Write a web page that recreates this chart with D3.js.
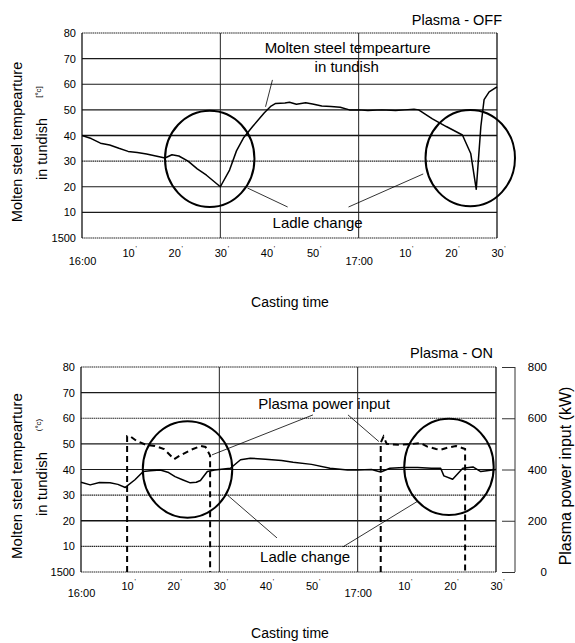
<!DOCTYPE html>
<html>
<head>
<meta charset="utf-8">
<script src="https://cdn.jsdelivr.net/npm/d3@7"></script>
<style>
  body { margin: 0; background: #fff; }
  svg { display: block; font-family: "Liberation Sans", Arial, sans-serif; }
</style>
</head>
<body>
<div id="chart"></div>
<script>
// --- data (minutes after 16:00, temperature above 1500 C, power kW) ---
var minuteTicks = [0, 10, 20, 30, 40, 50, 60, 70, 80, 90];
var minuteLabels = ["16:00", "10", "20", "30", "40", "50", "17:00", "10", "20", "30"];
var tempTicks = [0, 10, 20, 30, 40, 50, 60, 70, 80];
var tempLabels = ["1500", "10", "20", "30", "40", "50", "60", "70", "80"];
var powerTicks = [0, 200, 400, 600, 800];

// Plasma OFF : tundish temperature
var offTime = [0, 2, 4, 6, 8, 10, 12, 14, 16, 18, 19.5, 21, 23, 25, 27, 30, 32, 33.5, 35, 37, 39.5, 41, 42, 44, 45, 46.5, 48.5, 50, 52, 54, 56, 58, 60, 62, 65, 68, 70, 72, 73, 76, 79, 82.5, 84.3, 85.5, 86.5, 87.2, 88.3, 90];
var offTemp = [40, 38.8, 37, 36.3, 35, 33.8, 33.4, 32.8, 32, 31.2, 32.5, 32, 30, 27, 24.5, 20, 26.5, 34, 39, 43.5, 48.8, 51.5, 52.5, 52.7, 53, 52.2, 52.8, 52.3, 51.5, 51.3, 51, 50, 50, 49.8, 50, 49.8, 50, 50.2, 50, 46.5, 43.5, 40.2, 33, 19, 43.5, 54, 57, 59];

// Plasma ON : tundish temperature
var onTime = [0, 2, 4, 6.3, 8, 9.6, 11.7, 13.5, 15, 17.2, 19, 20.4, 22, 23.7, 25, 25.9, 27.4, 29, 32.4, 34.6, 36.7, 40, 43.5, 46, 50, 54, 57.8, 60, 63, 65, 67, 70, 73, 76, 78, 78.7, 80.6, 82.8, 85, 86.7, 88, 90];
var onTemp = [35, 34, 34.9, 34.8, 34.2, 33, 36, 39.2, 39.5, 39.8, 38.8, 37.2, 36, 34.8, 35, 35.7, 39.2, 39.8, 40.5, 43.8, 44.4, 44, 43.5, 42.8, 42, 40.5, 39.8, 39.8, 40, 39, 40.5, 40.8, 40.8, 40.5, 40.5, 37.5, 36.2, 40.5, 41, 39.2, 39.5, 40];

// Plasma ON : power input, two heats
var power1Time = [10, 10, 10.8, 12, 14, 16, 18, 20.2, 21.5, 24, 26, 27, 28, 28];
var power1 = [0, 530, 528, 512, 497, 492, 480, 440, 455, 478, 492, 488, 455, 0];
var power2Time = [65, 65, 65.6, 66.3, 69, 72, 73.7, 75, 77, 78, 79.5, 81.3, 82.5, 83.3, 83.3];
var power2 = [0, 505, 528, 500, 496, 500, 503, 490, 480, 477, 485, 492, 485, 480, 0];

// annotations (minute, temp)
var offCircles = [[27.7, 30.9], [84.2, 31.2]];
var onCircles = [[23.1, 40], [79.8, 41]];
var offLeaders = [[[41.3, 61.7], [39.8, 51.2]], [[35.9, 19.5], [44.6, 12.1]], [[57.8, 12.1], [74, 25]]];
var onLeaders = [[[28.4, 45.7], [50.3, 61.3]], [[57.9, 61.3], [64.6, 50.9]], [[31.7, 30.1], [42.5, 13.3]], [[56.8, 9.8], [72.9, 27.5]]];

var W = 575, H = 643;
var svg = d3.select("#chart").append("svg").attr("width", W).attr("height", H);

// grid line look per temperature level, 0..80
var offGridStyle = ["dot", "solid", "solid", "dot", "thick", "solid", "solid", "solid", "dot"];
var onGridStyle = ["dot", "dot", "thick", "dot", "solid", "solid", "dot", "solid", "dot"];

function styleLine(sel, kind) {
  if (kind === "dot") {
    sel.attr("stroke", "#222").attr("stroke-width", 1.1).attr("stroke-dasharray", "1.5,0.6");
  } else if (kind === "thick") {
    sel.attr("stroke", "#111").attr("stroke-width", 1.5);
  } else {
    sel.attr("stroke", "#1a1a1a").attr("stroke-width", 1.1);
  }
}

function drawPanel(p) {
  var x = d3.scaleLinear().domain([0, 90]).range([p.left, p.right]);
  var y = d3.scaleLinear().domain([0, 80]).range([p.bottom, p.top]);
  var g = svg.append("g");

  // horizontal grid
  tempTicks.forEach(function(t, i) {
    var l = g.append("line")
      .attr("x1", p.left).attr("x2", p.right)
      .attr("y1", y(t)).attr("y2", y(t));
    styleLine(l, p.gridStyle[i]);
  });
  // vertical lines at 30' and 17:00, borders
  [30, 60].forEach(function(m) {
    g.append("line").attr("x1", x(m)).attr("x2", x(m))
      .attr("y1", p.top).attr("y2", p.bottom)
      .attr("stroke", "#222").attr("stroke-width", 1);
  });
  [0, 90].forEach(function(m) {
    g.append("line").attr("x1", x(m)).attr("x2", x(m))
      .attr("y1", p.top).attr("y2", p.bottom)
      .attr("stroke", "#111").attr("stroke-width", 1.3);
  });

  // y axis labels
  var yAxis = g.append("g")
    .attr("transform", "translate(" + (p.left - 6) + ",0)")
    .call(d3.axisLeft(y).tickValues(tempTicks).tickSize(0)
      .tickFormat(function(d, i) { return tempLabels[i]; }));
  yAxis.select(".domain").remove();
  yAxis.selectAll("text")
    .attr("x", 0)
    .style("font-family", "Liberation Sans, Arial, sans-serif")
    .style("font-size", "11px").attr("fill", "#000");

  // x axis labels
  var xAxis = g.append("g")
    .attr("transform", "translate(0," + p.bottom + ")")
    .call(d3.axisBottom(x).tickValues(minuteTicks).tickSize(0)
      .tickFormat(function(d, i) { return minuteLabels[i]; }));
  xAxis.select(".domain").remove();
  xAxis.selectAll("text")
    .attr("dy", null)
    .attr("y", function(d, i) { return minuteLabels[i].indexOf(":") > 0 ? p.hourDy : p.minDy; })
    .style("font-family", "Liberation Sans, Arial, sans-serif")
    .style("font-size", "11px").attr("fill", "#000");
  xAxis.selectAll(".tick").each(function(d, i) {
    if (minuteLabels[i].indexOf(":") < 0) {
      d3.select(this).append("text")
        .attr("x", 7.5).attr("y", p.minDy - 6)
        .style("font-size", "7px").attr("fill", "#000")
        .style("font-family", "Liberation Sans, Arial, sans-serif")
        .text("'");
    }
  });

  // temperature line
  var line = d3.line().x(function(d) { return x(d[0]); }).y(function(d) { return y(d[1]); });
  g.append("path")
    .datum(d3.zip(p.time, p.temp))
    .attr("d", line).attr("fill", "none")
    .attr("stroke", "#000").attr("stroke-width", 1.5).attr("stroke-linejoin", "round");

  // annotation circles
  p.circles.forEach(function(c) {
    g.append("ellipse")
      .attr("cx", x(c[0])).attr("cy", y(c[1]))
      .attr("rx", x(9.7) - x(0)).attr("ry", y(0) - y(18.8))
      .attr("fill", "none").attr("stroke", "#000").attr("stroke-width", 2);
  });
  p.leaders.forEach(function(l) {
    g.append("line")
      .attr("x1", x(l[0][0])).attr("y1", y(l[0][1]))
      .attr("x2", x(l[1][0])).attr("y2", y(l[1][1]))
      .attr("stroke", "#000").attr("stroke-width", 0.8);
  });
  p.labels.forEach(function(t) {
    g.append("text")
      .attr("x", x(t[0])).attr("y", y(t[1]))
      .attr("text-anchor", "middle")
      .style("font-size", "15px")
      .text(t[2]);
  });

  // title
  svg.append("text")
    .attr("x", p.titleX).attr("y", p.titleY)
    .attr("text-anchor", "end").style("font-size", "14.5px")
    .text(p.title);

  // y titles
  var yt = svg.append("g");
  yt.append("text")
    .attr("transform", "translate(22," + p.yTitle1 + ") rotate(-90)")
    .attr("text-anchor", "middle").style("font-size", p.yTitleSize)
    .text("Molten steel tempearture");
  yt.append("text")
    .attr("transform", "translate(47," + p.yTitle2 + ") rotate(-90)")
    .attr("text-anchor", "middle").style("font-size", p.yTitleSize)
    .text("in tundish");
  yt.append("text")
    .attr("transform", "translate(41," + p.unitY + ") rotate(-90)")
    .attr("text-anchor", "middle").style("font-size", "8px")
    .text(p.unit);

  // x title
  svg.append("text")
    .attr("x", 290).attr("y", p.xTitleY)
    .attr("text-anchor", "middle").style("font-size", "14px")
    .text("Casting time");

  return { x: x, y: y, g: g };
}

drawPanel({
  left: 82, right: 497, top: 33, bottom: 238,
  gridStyle: offGridStyle, minDy: 19, hourDy: 27,
  time: offTime, temp: offTemp,
  circles: offCircles, leaders: offLeaders,
  labels: [[57.6, 72.3, "Molten steel tempearture"], [57.4, 64.6, "in tundish"], [51.1, 3.9, "Ladle change"]],
  title: "Plasma - OFF", titleX: 502, titleY: 25,
  yTitle1: 142, yTitle2: 149, unitY: 92, unit: "[°c]", yTitleSize: "14.5px",
  xTitleY: 307
});

var on = drawPanel({
  left: 81, right: 496, top: 367, bottom: 572,
  gridStyle: onGridStyle, minDy: 18, hourDy: 25,
  time: onTime, temp: onTemp,
  circles: onCircles, leaders: onLeaders,
  labels: [[52.7, 63.7, "Plasma power input"], [48.6, 4.0, "Ladle change"]],
  title: "Plasma - ON", titleX: 493, titleY: 358,
  yTitle1: 476, yTitle2: 484, unitY: 425, unit: "(°c)", yTitleSize: "15px",
  xTitleY: 638
});

// power axis on the right of the lower panel
var yP = d3.scaleLinear().domain([0, 800]).range([572, 367]);
var pAxis = svg.append("g")
  .attr("transform", "translate(515,0)")
  .call(d3.axisLeft(yP).tickValues(powerTicks).tickSize(13).tickFormat(""));
pAxis.select(".domain").attr("stroke", "#333").attr("d", "M0," + yP(800) + "V" + yP(0));
pAxis.selectAll(".tick line").attr("stroke", "#333");
powerTicks.forEach(function(t) {
  svg.append("text")
    .attr("x", 547).attr("y", yP(t) + 4)
    .attr("text-anchor", "end").style("font-size", "11.5px")
    .text(t);
});
svg.append("text")
  .attr("transform", "translate(571,476) rotate(-90)")
  .attr("text-anchor", "middle").style("font-size", "16px")
  .text("Plasma power input (kW)");

// dashed power input lines
var pLine = d3.line().x(function(d) { return on.x(d[0]); }).y(function(d) { return yP(d[1]); });
[[power1Time, power1], [power2Time, power2]].forEach(function(s) {
  on.g.append("path")
    .datum(d3.zip(s[0], s[1]))
    .attr("d", pLine).attr("fill", "none")
    .attr("stroke", "#000").attr("stroke-width", 2)
    .attr("stroke-dasharray", "6,4");
});
</script>
</body>
</html>
